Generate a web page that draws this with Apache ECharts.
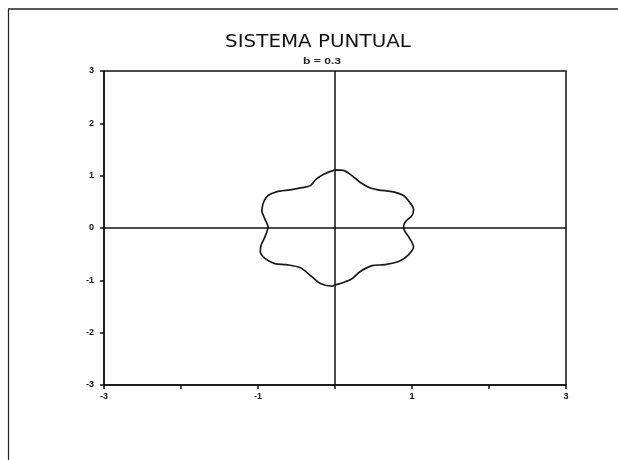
<!DOCTYPE html>
<html>
<head>
<meta charset="utf-8">
<script src="https://cdn.jsdelivr.net/npm/echarts@6/dist/echarts.min.js"></script>
<style>
  html, body { margin: 0; padding: 0; background: #fff; }
  #chart { width: 618px; height: 460px; }
</style>
</head>
<body>
<div id="chart"></div>
<script>
// Closed outline traced clockwise from the top point (x, y pairs split in two arrays)
var curveX = [0.00, 0.11, 0.22, 0.32, 0.45, 0.56, 0.76, 0.89, 0.97, 1.02, 1.00, 0.91, 0.89,
              0.91, 0.97, 1.02, 0.95, 0.84, 0.65, 0.48, 0.32, 0.22, 0.11, 0.00,
              -0.04, -0.19, -0.30, -0.45, -0.63, -0.78, -0.91, -0.97, -0.96, -0.91, -0.87,
              -0.91, -0.95, -0.94, -0.92, -0.87, -0.76, -0.58, -0.43, -0.32, -0.24, -0.11, 0.00];
var curveY = [1.11, 1.10, 1.00, 0.88, 0.77, 0.73, 0.69, 0.62, 0.49, 0.36, 0.24, 0.11, 0.01,
              -0.07, -0.20, -0.36, -0.52, -0.63, -0.70, -0.72, -0.84, -0.97, -1.04, -1.09,
              -1.11, -1.06, -0.93, -0.76, -0.70, -0.68, -0.58, -0.45, -0.33, -0.17, 0.02,
              0.17, 0.33, 0.43, 0.52, 0.62, 0.69, 0.73, 0.77, 0.81, 0.94, 1.05, 1.11];

var xTickLabels = ['-3', '-1', '1', '3'];
var yTickLabels = ['-3', '-2', '-1', '0', '1', '2', '3'];
var titleText = 'SISTEMA PUNTUAL';
var subtitleText = 'b = 0.3';

var points = curveX.map(function (x, i) { return [x, curveY[i]]; });

var tickFont = { fontFamily: 'Liberation Sans, Arial, sans-serif', fontSize: 9, fontWeight: 'bold', color: '#111' };

var chart = echarts.init(document.getElementById('chart'), null, { renderer: 'canvas' });
chart.setOption({
  backgroundColor: '#fff',
  animation: false,
  grid: { left: 104, right: 52, top: 71, bottom: 75, show: true, borderColor: '#111', borderWidth: 1.5, backgroundColor: 'transparent' },
  xAxis: {
    type: 'value', min: -3, max: 3, interval: 1,
    axisLine: { onZero: false, lineStyle: { color: '#111', width: 1.5 } },
    axisTick: { show: true, inside: false, length: 4, lineStyle: { color: '#111', width: 1.5 } },
    axisLabel: Object.assign({
      margin: 7,
      formatter: function (v) { var s = String(v); return xTickLabels.indexOf(s) >= 0 ? s : ''; }
    }, tickFont),
    splitLine: { show: false }
  },
  yAxis: {
    type: 'value', min: -3, max: 3, interval: 1,
    axisLine: { onZero: false, lineStyle: { color: '#111', width: 1.5 } },
    axisTick: { show: true, inside: false, length: 4, lineStyle: { color: '#111', width: 1.5 } },
    axisLabel: Object.assign({
      margin: 10,
      formatter: function (v) { var s = String(v); return yTickLabels.indexOf(s) >= 0 ? s : ''; }
    }, tickFont),
    splitLine: { show: false }
  },
  series: [{
    type: 'line',
    data: points,
    showSymbol: false,
    smooth: 0.3,
    lineStyle: { color: '#1a1a1a', width: 1.7 },
    markLine: {
      silent: true,
      symbol: 'none',
      label: { show: false },
      lineStyle: { color: '#111', width: 1.5, type: 'solid' },
      data: [{ xAxis: 0 }, { yAxis: 0 }]
    }
  }],
  graphic: [
    // page frame: top rule and left rule
    { type: 'line', shape: { x1: 8, y1: 9, x2: 618, y2: 9 }, style: { stroke: '#222', lineWidth: 1.5 } },
    { type: 'line', shape: { x1: 8.5, y1: 9, x2: 8.5, y2: 460 }, style: { stroke: '#222', lineWidth: 1.2 } },
    // widely spaced heading, stretched horizontally
    { type: 'text', x: 318, y: 43, scaleX: 1.17, originX: 0, originY: 0,
      style: { text: titleText, textAlign: 'center', textVerticalAlign: 'middle',
               font: 'normal 17px "DejaVu Sans", sans-serif', fill: '#111' } },
    { type: 'text', x: 322, y: 62, scaleX: 1.35, originX: 0, originY: 0,
      style: { text: subtitleText, textAlign: 'center', textVerticalAlign: 'middle',
               font: 'bold 9px "Liberation Sans", Arial, sans-serif', fill: '#222' } }
  ]
});
</script>
</body>
</html>
